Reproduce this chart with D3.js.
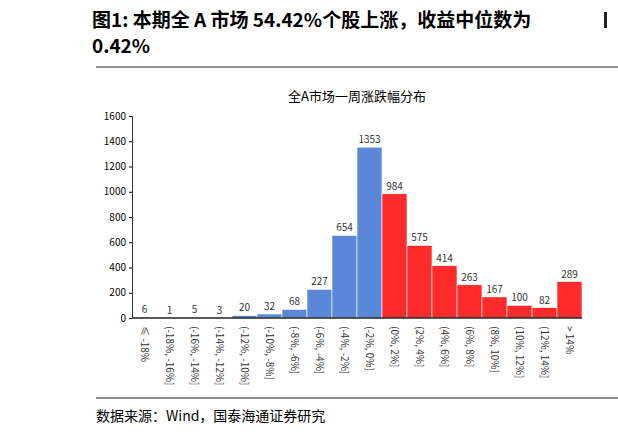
<!DOCTYPE html>
<html lang="zh">
<head>
<meta charset="utf-8" />
<script src="https://d3js.org/d3.v7.min.js"></script>
<style>
  body { margin: 0; background: #fff; }
  text { font-family: "Noto Sans CJK SC", "Liberation Serif", serif; }
</style>
</head>
<body>
<script>
  // Data
  const categories = ["≤ -18%", "(-18%, -16%]", "(-16%, -14%]", "(-14%, -12%]", "(-12%, -10%]",
    "(-10%, -8%]", "(-8%, -6%]", "(-6%, -4%]", "(-4%, -2%]", "(-2%, 0%]",
    "(0%, 2%]", "(2%, 4%]", "(4%, 6%]", "(6%, 8%]", "(8%, 10%]", "(10%, 12%]", "(12%, 14%]", "> 14%"];
  const counts = [6, 1, 5, 3, 20, 32, 68, 227, 654, 1353, 984, 575, 414, 263, 167, 100, 82, 289];
  const yTicks = [0, 200, 400, 600, 800, 1000, 1200, 1400, 1600];

  const W = 618, H = 436;
  const BLUE = "#5b87d9", RED = "#ff2a2a";
  const PLOT_L = 132, PLOT_R = 582, PLOT_T = 116, PLOT_B = 318;

  const svg = d3.select("body").append("svg").attr("width", W).attr("height", H);

  // header
  svg.append("text").attr("x", 92).attr("y", 27).attr("font-size", 19).attr("font-weight", "bold")
    .attr("font-family", "Noto Sans CJK SC").text("图1:  本期全 A 市场 54.42%个股上涨，收益中位数为");
  svg.append("text").attr("x", 92).attr("y", 53).attr("font-size", 19).attr("font-weight", "bold")
    .attr("font-family", "Liberation Serif").text("0.42%");
  svg.append("rect").attr("x", 604).attr("y", 12).attr("width", 3).attr("height", 16).attr("fill", "#222");
  svg.append("line").attr("x1", 96).attr("x2", W).attr("y1", 67).attr("y2", 67).attr("stroke", "#222").attr("stroke-width", 1.2);
  svg.append("line").attr("x1", 96).attr("x2", W).attr("y1", 398).attr("y2", 398).attr("stroke", "#222").attr("stroke-width", 1.2);
  svg.append("text").attr("x", 96).attr("y", 421).attr("font-size", 14).text("数据来源：Wind，国泰海通证券研究");

  svg.append("text").attr("x", (PLOT_L + PLOT_R) / 2).attr("y", 101).attr("text-anchor", "middle")
    .attr("font-size", 13).text("全A市场一周涨跌幅分布");

  const x = d3.scaleBand().domain(categories).range([PLOT_L, PLOT_R]).padding(0);
  const y = d3.scaleLinear().domain([0, 1600]).range([PLOT_B, PLOT_T]);

  const yAxis = svg.append("g").attr("transform", `translate(${PLOT_L},0)`)
    .call(d3.axisLeft(y).tickValues(yTicks).tickSize(3).tickFormat(d3.format("d")));
  yAxis.selectAll("text").attr("font-size", 10).attr("font-family", "Liberation Serif");
  yAxis.select(".domain").attr("stroke", "#333");

  svg.selectAll(".bar").data(counts).join("rect")
    .attr("x", (d, i) => x(categories[i]))
    .attr("y", d => y(d))
    .attr("width", x.bandwidth())
    .attr("height", d => PLOT_B - y(d))
    .attr("fill", (d, i) => i < 10 ? BLUE : RED)
    .attr("stroke", "#fff").attr("stroke-width", 0.6);

  svg.selectAll(".lbl").data(counts).join("text")
    .attr("x", (d, i) => x(categories[i]) + x.bandwidth() / 2)
    .attr("y", d => y(d) - 4)
    .attr("text-anchor", "middle").attr("font-size", 10).attr("font-family", "Liberation Serif")
    .attr("fill", "#333").text(d => d);

  svg.append("line").attr("x1", PLOT_L).attr("x2", PLOT_R).attr("y1", PLOT_B).attr("y2", PLOT_B)
    .attr("stroke", "#222").attr("stroke-width", 1.5);

  svg.selectAll(".cat").data(categories).join("text")
    .attr("transform", (d, i) => `translate(${x(d) + x.bandwidth() / 2 - 4},${PLOT_B + 8}) rotate(90)`)
    .attr("font-size", 10).attr("font-family", "Noto Sans CJK SC").attr("fill", "#333").text(d => d);
</script>
</body>
</html>
